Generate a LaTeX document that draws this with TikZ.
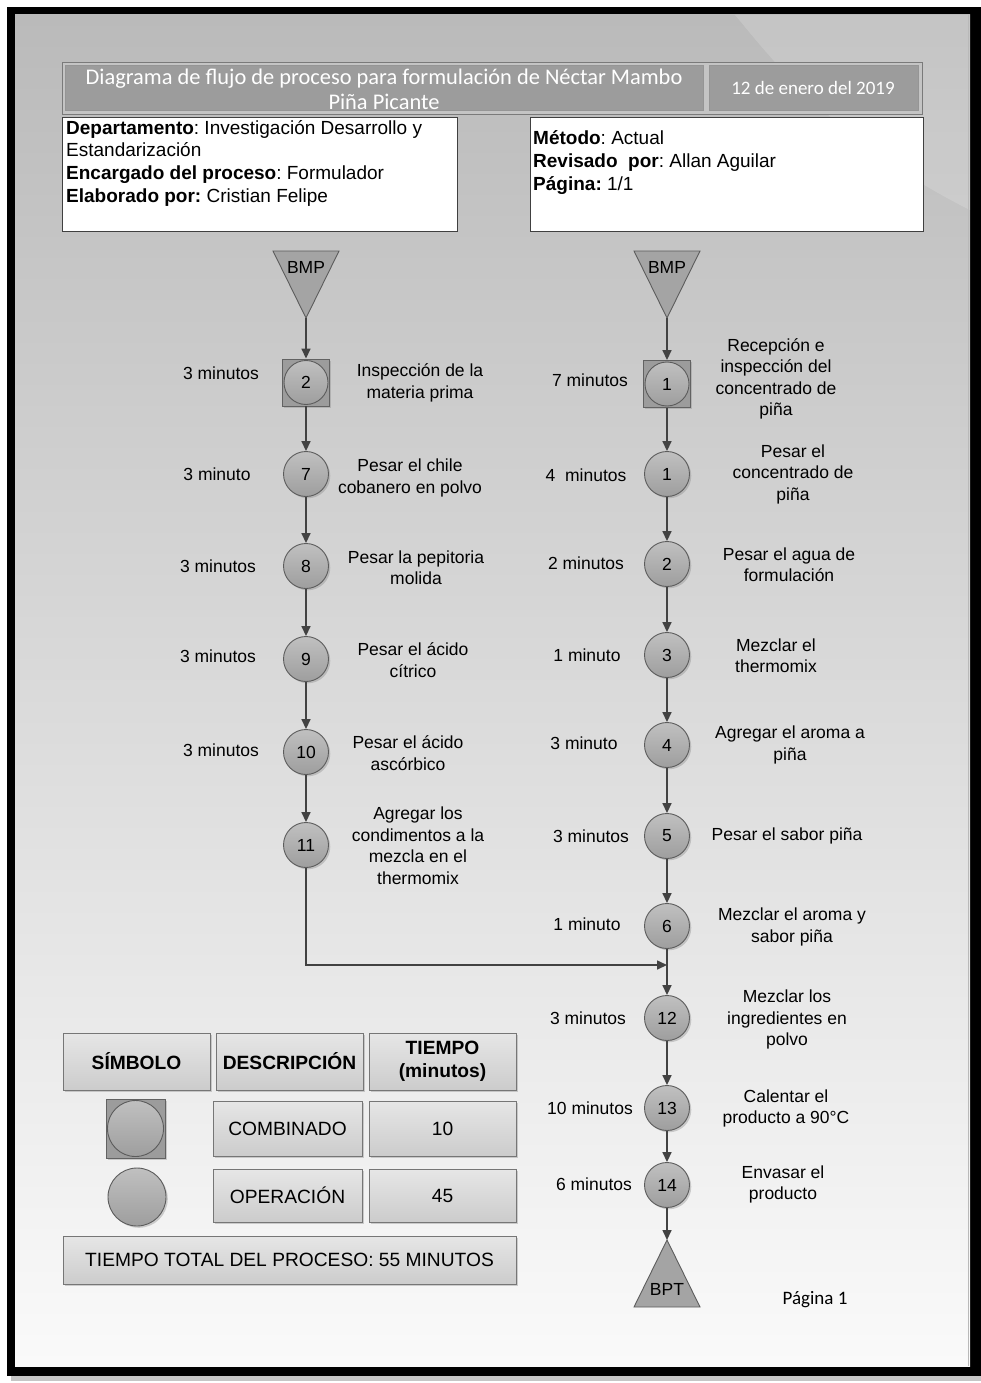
\documentclass[tikz,border=0pt]{standalone}
\usepackage{fontspec}
\setmainfont{Liberation Sans}
\newfontfamily\calibfont{Carlito}
\usetikzlibrary{arrows.meta,shadows}

\definecolor{bgTop}{RGB}{186,186,186}
\definecolor{bgMid}{RGB}{216,216,216}
\definecolor{bgBot}{RGB}{250,250,250}
\definecolor{lineC}{RGB}{66,66,66}
\definecolor{circTop}{RGB}{192,192,192}
\definecolor{circBot}{RGB}{158,158,158}
\definecolor{circEdge}{RGB}{92,92,92}
\definecolor{sqFill}{RGB}{156,156,156}
\definecolor{sqEdge}{RGB}{98,98,98}
\definecolor{triFill}{RGB}{164,164,164}
\definecolor{headOuter}{RGB}{196,196,196}
\definecolor{headFill}{RGB}{156,156,156}
\definecolor{headEdge}{RGB}{122,122,122}
\definecolor{legTop}{RGB}{230,230,230}
\definecolor{legBot}{RGB}{204,204,204}
\definecolor{legEdge}{RGB}{118,118,118}

\newcommand\flowfont{\frenchspacing\fontsize{17.5pt}{21.5pt}\selectfont}
\newcommand\legfont{\frenchspacing\fontsize{19.2pt}{23pt}\selectfont}
\newcommand\infofont{\frenchspacing\fontsize{19pt}{23pt}\selectfont}
\newcommand\headfont{\frenchspacing\calibfont\fontsize{19pt}{25pt}\selectfont}
\newcommand\titlefont{\frenchspacing\calibfont\fontsize{22.4pt}{25pt}\selectfont}

\tikzset{
  arr/.style={draw=lineC, line width=1.6pt, -{Triangle[length=10pt,width=9pt]}},
  shade box/.style={drop shadow={shadow xshift=1.8pt, shadow yshift=-1.8pt, opacity=0.35}},
  opc/.style={circle, minimum size=45pt, inner sep=0pt, draw=circEdge, line width=0.9pt,
    top color=circTop, bottom color=circBot, font=\flowfont, shade box},
  combo/.style={rectangle, minimum size=47pt, inner sep=0pt, draw=sqEdge, fill=sqFill,
    line width=0.9pt, shade box},
  inner circle/.style={circle, minimum size=44pt, inner sep=0pt, draw=circEdge, line width=0.9pt,
    top color=circTop, bottom color=circBot, font=\flowfont},
  tri/.style={draw=circEdge, fill=triFill, line width=0.9pt},
  tlabel/.style={font=\flowfont, align=center, inner sep=0pt},
  info/.style={font=\infofont, anchor=base west, inner sep=0pt},
  legbox/.style={draw=legEdge, top color=legTop, bottom color=legBot, line width=0.8pt,
    font=\legfont, align=center, inner sep=0pt, shade box},
  headcell/.style={draw=headEdge, fill=headOuter, line width=0.8pt},
  headin/.style={fill=headFill, draw=headEdge!80!white, line width=0.5pt},
}

\begin{document}
\begin{tikzpicture}[x=1pt,y=-1pt]
\useasboundingbox (0,0) rectangle (981,1383);
\fill[white] (0,0) rectangle (981,1383);

% page frame
\fill[gray!45] (11,11) rectangle (981,1381);
\fill[black] (7,7) rectangle (981,1376);
\shade[top color=bgTop, middle color=bgMid, bottom color=bgBot] (15,15) rectangle (970,1366);
\fill[white, opacity=0.16] (735,15) .. controls (765,50) and (830,140) .. (970,210) -- (970,15) -- cycle;
\draw[gray!55, line width=0.8pt] (968,15) -- (968,1366);

% header band
\draw[headcell] (62,62) rectangle (922,114);
\draw[headin] (65.5,65.5) rectangle (703,110.5);
\draw[headin] (709,65.5) rectangle (918.5,110.5);
\node[font=\titlefont, text=white, align=center, inner sep=0pt] (title) at (384,89.5)
  {Diagrama de flujo de proceso para formulación de Néctar Mambo\\Piña Picante};
\node[font=\headfont, text=white, inner sep=0pt] (fecha) at (813,88) {12 de enero del 2019};

% information boxes
\draw[fill=white, draw=black!75, line width=0.9pt] (62,117) rectangle (457,231);
\draw[fill=white, draw=black!75, line width=0.9pt] (530,117) rectangle (923,231);
\node[info] (dep1) at (66,134.5) {\textbf{Departamento}: Investigación Desarrollo y};
\node[info] (dep2) at (66,157) {Estandarización};
\node[info] (enc) at (66,180) {\textbf{Encargado del proceso}: Formulador};
\node[info] (ela) at (66,203) {\textbf{Elaborado por:} Cristian Felipe};
\node[info] (met) at (533,144.5) {\textbf{Método}: Actual};
\node[info] (rev) at (533,167.5) {\textbf{Revisado\ \ por}: Allan Aguilar};
\node[info] (pag) at (533,190.5) {\textbf{Página:} 1/1};

% raw material triangles
\coordinate (bmpL) at (306,318);
\coordinate (bmpR) at (667,318);
\draw[tri] (273,251) -- (339,251) -- (bmpL) -- cycle;
\draw[tri] (634,251) -- (700,251) -- (bmpR) -- cycle;
\node[font=\flowfont, inner sep=0pt] (bmpLt) at (306,267) {BMP};
\node[font=\flowfont, inner sep=0pt] (bmpRt) at (667,267) {BMP};

% left column
\node[combo] (c2) at (306,382.5) {};
\node[inner circle] (c2c) at (c2) {2};
\node[opc] (o7) at (306,474) {7};
\node[opc] (o8) at (306,566) {8};
\node[opc] (o9) at (306,659) {9};
\node[opc] (o10) at (306,752) {10};
\node[opc] (o11) at (306,845) {11};

% right column
\node[combo] (r1) at (667,384) {};
\node[inner circle] (r1c) at (r1) {1};
\node[opc] (q1) at (667,474) {1};
\node[opc] (q2) at (667,564) {2};
\node[opc] (q3) at (667,655) {3};
\node[opc] (q4) at (667,745) {4};
\node[opc] (q5) at (667,836) {5};
\node[opc] (q6) at (667,926) {6};
\node[opc] (q12) at (667,1018) {12};
\node[opc] (q13) at (667,1108) {13};
\node[opc] (q14) at (667,1185) {14};

% finished product triangle
\coordinate (bpt) at (667,1240);
\draw[tri] (bpt) -- (700,1307) -- (634,1307) -- cycle;
\node[font=\flowfont, inner sep=0pt] (bptt) at (667,1289) {BPT};

% connectors
\coordinate (junc) at (667,965);
\draw[arr] (bmpL) -- (c2.north);
\draw[arr] (c2.south) -- (o7.north);
\draw[arr] (o7.south) -- (o8.north);
\draw[arr] (o8.south) -- (o9.north);
\draw[arr] (o9.south) -- (o10.north);
\draw[arr] (o10.south) -- (o11.north);
\draw[arr] (o11.south) |- (junc);
\draw[arr] (bmpR) -- (r1.north);
\draw[arr] (r1.south) -- (q1.north);
\draw[arr] (q1.south) -- (q2.north);
\draw[arr] (q2.south) -- (q3.north);
\draw[arr] (q3.south) -- (q4.north);
\draw[arr] (q4.south) -- (q5.north);
\draw[arr] (q5.south) -- (q6.north);
\draw[arr] (q6.south) -- (q12.north);
\draw[arr] (q12.south) -- (q13.north);
\draw[arr] (q13.south) -- (q14.north);
\draw[arr] (q14.south) -- (bpt);

% left labels
\node[tlabel] (tc2) at (221,373) {3 minutos};
\node[tlabel] (t7) at (217,474) {3 minuto};
\node[tlabel] (t8) at (218,566) {3 minutos};
\node[tlabel] (t9) at (218,656) {3 minutos};
\node[tlabel] (t10) at (221,750) {3 minutos};
\node[tlabel] (dc2) at (420,383) {Inspección de la\\materia prima};
\node[tlabel] (d7) at (410,478) {Pesar el chile\\cobanero en polvo};
\node[tlabel] (d8) at (416,567.5) {Pesar la pepitoria\\molida};
\node[tlabel] (d9) at (413,660) {Pesar el ácido\\cítrico};
\node[tlabel] (d10) at (408,753) {Pesar el ácido\\ascórbico};
\node[tlabel] (d11) at (418,845.5) {Agregar los\\condimentos a la\\mezcla en el\\thermomix};

% right labels
\node[tlabel] (tr1) at (590,380) {7 minutos};
\node[tlabel] (tq1) at (586,475) {4\ \ minutos};
\node[tlabel] (tq2) at (586,563) {2 minutos};
\node[tlabel] (tq3) at (587,655) {1 minuto};
\node[tlabel] (tq4) at (584,743) {3 minuto};
\node[tlabel] (tq5) at (591,836) {3 minutos};
\node[tlabel] (tq6) at (587,924) {1 minuto};
\node[tlabel] (tq12) at (588,1018) {3 minutos};
\node[tlabel] (tq13) at (590,1108) {10 minutos};
\node[tlabel] (tq14) at (594,1184) {6 minutos};
\node[tlabel] (dr1) at (776,379) {Recepción e\\inspección del\\concentrado de\\piña};
\node[tlabel] (dq1) at (793,474) {Pesar el\\concentrado de\\piña};
\node[tlabel] (dq2) at (789,564.5) {Pesar el agua de\\formulación};
\node[tlabel] (dq3) at (776,655.5) {Mezclar el\\thermomix};
\node[tlabel] (dq4) at (790,745) {Agregar el aroma a\\piña};
\node[tlabel] (dq5) at (787,836) {Pesar el sabor piña};
\node[tlabel] (dq6) at (792,927) {Mezclar el aroma y\\sabor piña};
\node[tlabel] (dq12) at (787,1019.5) {Mezclar los\\ingredientes en\\polvo};
\node[tlabel] (dq13) at (786,1108.5) {Calentar el\\producto a 90°C};
\node[tlabel] (dq14) at (783,1184.5) {Envasar el\\producto};

% legend
\node[legbox, minimum width=147pt, minimum height=57pt] (hsim) at (136.5,1061.5) {\textbf{SÍMBOLO}};
\node[legbox, minimum width=147pt, minimum height=57pt] (hdes) at (289.5,1061.5) {\textbf{DESCRIPCIÓN}};
\node[legbox, minimum width=147pt, minimum height=57pt] (htie) at (442.5,1061.5) {\textbf{TIEMPO}\\\textbf{(minutos)}};
\node[combo, minimum size=59pt] (lsq) at (135.5,1128.5) {};
\node[inner circle, minimum size=56pt] (lsqc) at (lsq) {};
\node[legbox, minimum width=149pt, minimum height=55pt] (lcomb) at (287.5,1128.5) {COMBINADO};
\node[legbox, minimum width=147pt, minimum height=55pt] (lcombt) at (442.5,1128.5) {10};
\node[opc, minimum size=58pt] (lop) at (137,1197) {};
\node[legbox, minimum width=149pt, minimum height=53pt] (lope) at (287.5,1195.5) {OPERACIÓN};
\node[legbox, minimum width=147pt, minimum height=53pt] (lopet) at (442.5,1195.5) {45};
\node[legbox, minimum width=453pt, minimum height=48pt] (ltot) at (289.5,1260) {TIEMPO TOTAL DEL PROCESO: 55 MINUTOS};

% page number
\node[font=\headfont, inner sep=0pt] (pnum) at (815,1300) {Página 1};
\end{tikzpicture}
\end{document}
